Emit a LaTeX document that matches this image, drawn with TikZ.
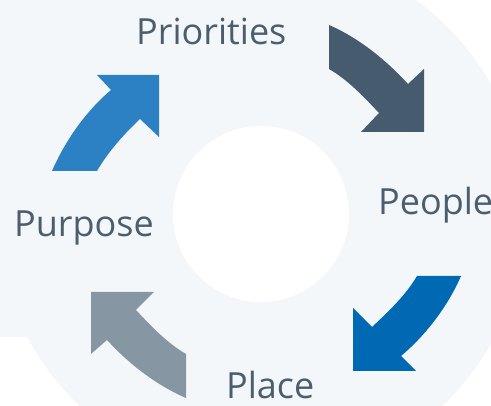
\documentclass[tikz,border=0pt]{standalone}
\usepackage{fontspec}
\setmainfont{Open Sans}
\definecolor{bgc}{HTML}{F4F7F9}
\definecolor{txtc}{HTML}{4A5E70}
\definecolor{arrA}{HTML}{2B81C4}
\definecolor{arrB}{HTML}{475B6E}
\definecolor{arrC}{HTML}{0069B4}
\definecolor{arrD}{HTML}{8696A2}
\tikzset{
  lbl/.style={text=txtc, font=\fontsize{36}{40}\selectfont, inner sep=0pt, anchor=base west},
  arrowband/.style={draw=none}
}
\begin{document}
\begin{tikzpicture}[x=1pt,y=-1pt]
\useasboundingbox (0,0) rectangle (491,406);
\clip (0,0) rectangle (491,406);
% background
\fill[bgc] (261,214) circle (264);
\fill[bgc] (0,-10) rectangle (261,337);
\fill[white] (261,214) circle (88);
% arrows
\fill[arrowband, arrA] (52,171) .. controls (65,141) and (86,111) .. (111,90)
  -- (97,75) -- (159,75) -- (159,137) -- (140,119)
  .. controls (124,134) and (108,152) .. (97,171) -- cycle;
\fill[arrowband, arrB] (329,25) .. controls (359,38) and (386,60) .. (408,84)
  -- (424,69) -- (424,132) -- (361,132) -- (379,113)
  .. controls (364,97) and (348,80) .. (329,69) -- cycle;
\fill[arrowband, arrC] (461,276) .. controls (448,306) and (426,335) .. (401,356)
  -- (416,371) -- (353,371) -- (353,308) -- (372,327)
  .. controls (388,312) and (406,295) .. (417,276) -- cycle;
\fill[arrowband, arrD] (186,398) .. controls (156,385) and (129,364) .. (107,340)
  -- (91,354) -- (91,292) -- (154,292) -- (136,310)
  .. controls (151,326) and (167,343) .. (186,354) -- cycle;
% labels
\node[lbl] (priorities) at (136,45) {Priorities};
\node[lbl] (people) at (378,215) {People};
\node[lbl] (purpose) at (14,237) {Purpose};
\node[lbl] (place) at (226,399) {Place};
\end{tikzpicture}
\end{document}
